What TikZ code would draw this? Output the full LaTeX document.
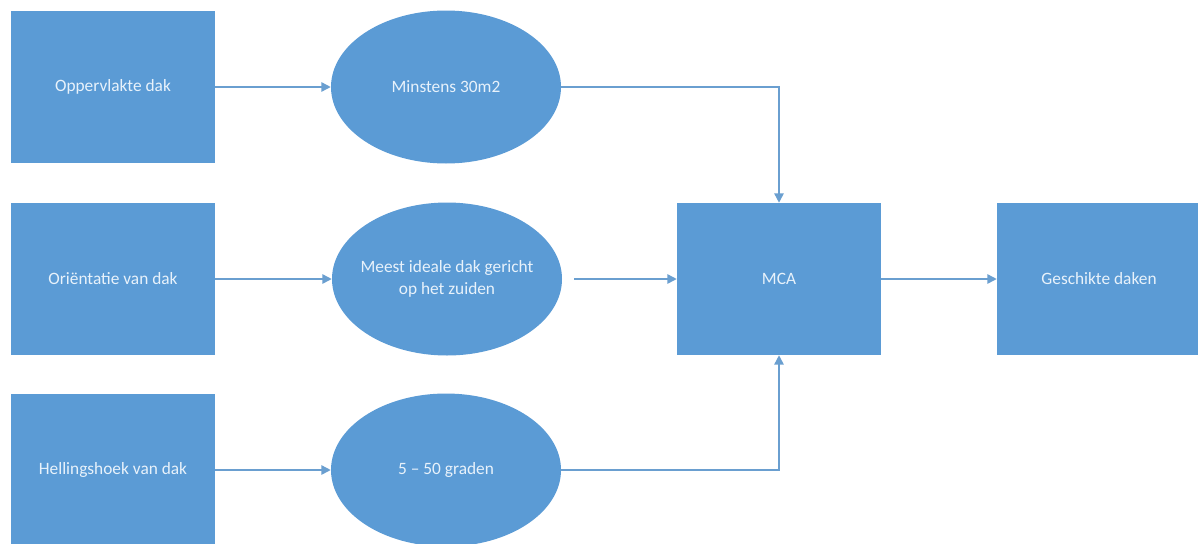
\documentclass[tikz,border=0pt]{standalone}
\usepackage{fontspec}
\setmainfont{Carlito}
\usetikzlibrary{shapes.geometric,arrows.meta}
\definecolor{offblue}{HTML}{5B9BD5}
\definecolor{linkblue}{HTML}{6A9FD0}
\definecolor{paletext}{HTML}{E8F2FB}
\tikzset{
  box/.style={rectangle, fill=offblue, draw=none, minimum width=153pt, minimum height=114pt,
    text=paletext, font=\fontsize{13}{16}\selectfont, align=center, inner sep=0pt},
  oval/.style={ellipse, fill=offblue, draw=none, minimum width=172.5pt, minimum height=114.75pt,
    text=paletext, font=\fontsize{13}{16}\selectfont, align=center, inner xsep=-15pt, inner ysep=0pt},
  link/.style={draw=linkblue, line width=1.1pt, -{Triangle[length=7pt,width=7pt]}}
}
\begin{document}
\begin{tikzpicture}[x=0.75pt,y=-0.75pt]
\useasboundingbox (0,0) rectangle (1198,543);
\clip (0,0) rectangle (1198,543);
\fill[white] (0,0) rectangle (1198,543);
% left column boxes
\node[box] (b1) at (113,87) {Oppervlakte dak};
\node[box] (b2) at (113,279) {Oriëntatie van dak};
\node[box] (b3) at (113,470) {Hellingshoek van dak};
% ellipses
\node[oval] (e1) at (446,87) {Minstens 30m2};
\node[oval] (e2) at (447,279) {Meest ideale dak gericht\\op het zuiden};
\node[oval] (e3) at (446,470) {5 – 50 graden};
% MCA and result
\node[box] (mca) at (779,279) {MCA};
\node[box] (res) at (1099,279) {Geschikte daken};
% connectors
\draw[link] (b1.east) -- (e1.west);
\draw[link] (b2.east) -- (e2.west);
\draw[link] (b3.east) -- (e3.west);
\draw[link] (e1.east) -| (mca.north);
\draw[link, shorten <=9pt] (e2.east) -- (mca.west);
\draw[link] (e3.east) -| (mca.south);
\draw[link] (mca.east) -- (res.west);
\end{tikzpicture}
\end{document}
